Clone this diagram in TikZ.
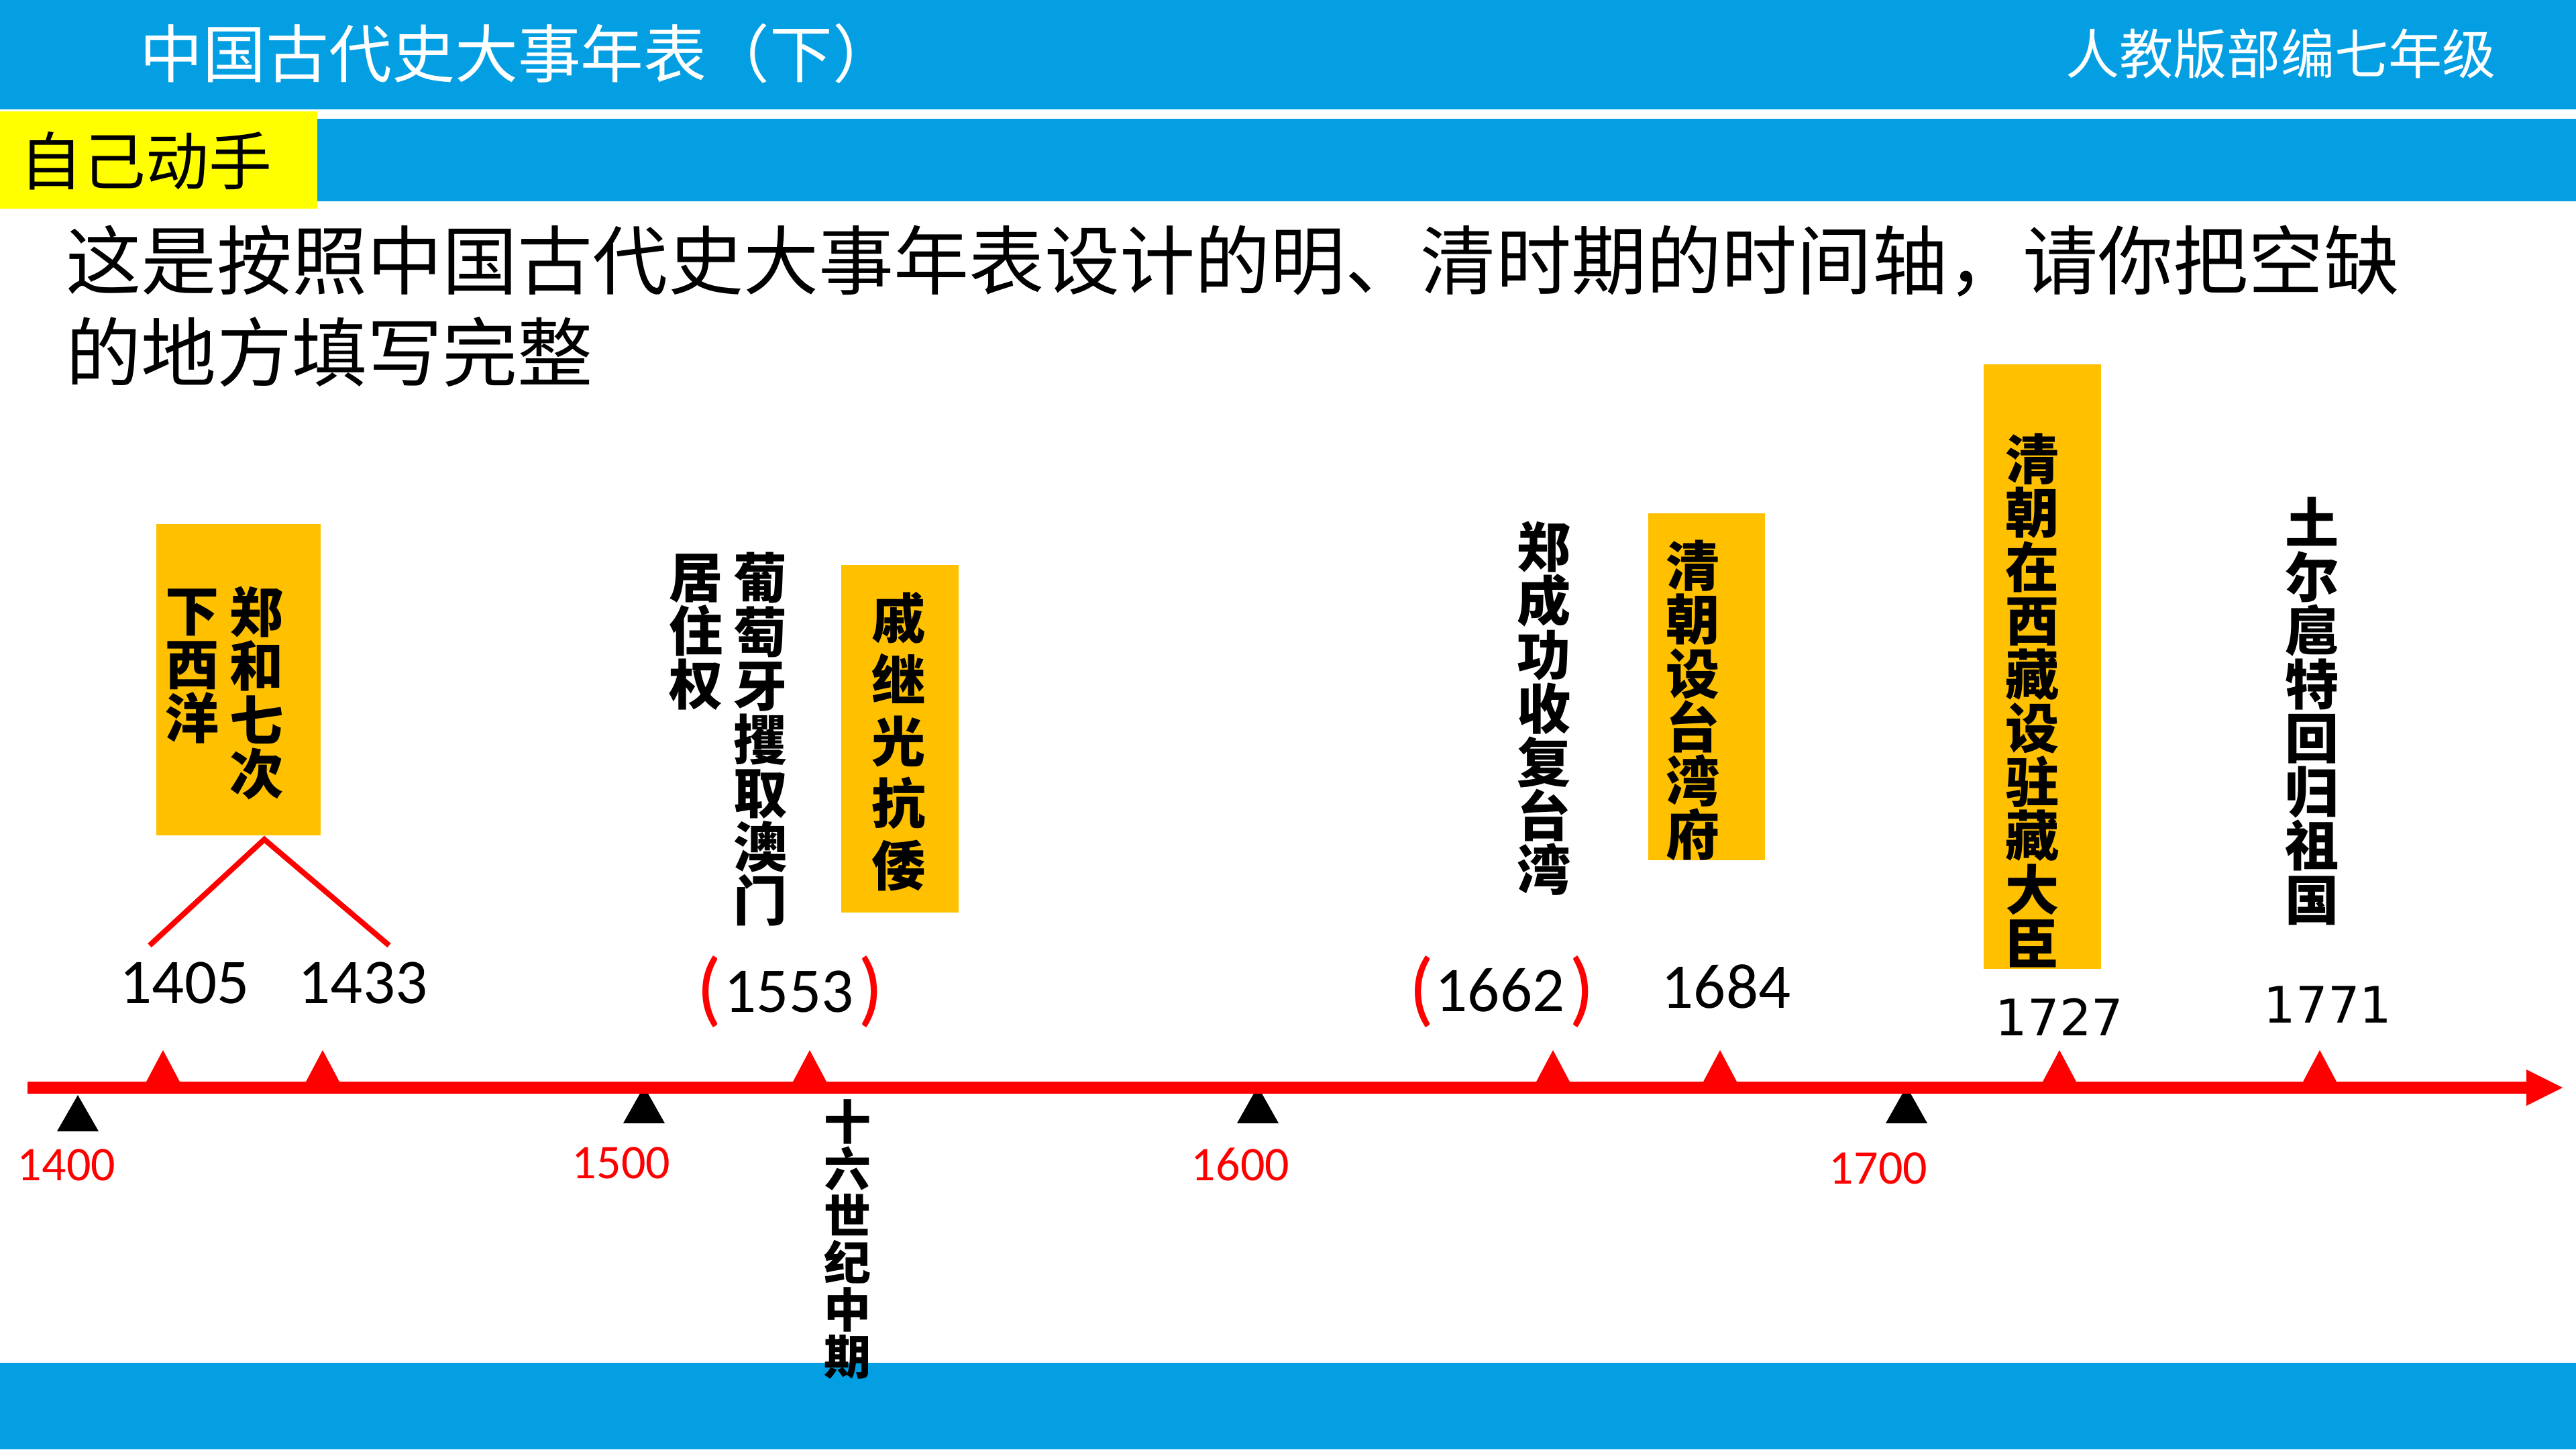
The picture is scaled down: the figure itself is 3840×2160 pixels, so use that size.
\documentclass[tikz,border=0pt]{standalone}
\usepackage{fontspec}
\setmainfont{Noto Sans CJK SC}
\newfontfamily\calfont{Carlito}
\newfontfamily\dvfont{DejaVu Sans}
\definecolor{topblue}{RGB}{4,159,227}
\definecolor{boxyellow}{RGB}{255,192,0}
\definecolor{labelyellow}{RGB}{255,255,0}
\newcommand{\fsz}[2]{\fontsize{#1}{#2}\selectfont}
\tikzset{
  vtext/.style={font=\bfseries\fsz{22.8pt}{22.8pt}, align=center, inner sep=0pt},
  bigyear/.style={font=\calfont\fsz{27pt}{27pt}, inner sep=0pt},
  redyear/.style={font=\calfont\fsz{20.5pt}{21pt}, text=red, inner sep=0pt},
  dvyear/.style={font=\dvfont\fsz{21.3pt}{22pt}, inner sep=0pt},
  paren/.style={font=\calfont\fsz{35pt}{35pt}, text=red, inner sep=0pt},
  ybox/.style={fill=boxyellow},
  redtri/.style={fill=red},
  blacktri/.style={fill=black},
}
\newcommand{\redtri}[1]{\fill[redtri] (#1-26,1614) -- (#1,1565) -- (#1+26,1614) -- cycle;}
\newcommand{\blacktri}[3]{\fill[blacktri] (#1-31,#3) -- (#1,#2) -- (#1+31,#3) -- cycle;}
\begin{document}
\begin{tikzpicture}[x=0.01cm,y=-0.01cm]
\useasboundingbox (0,0) rectangle (3840,2160);
\fill[white] (0,0) rectangle (3840,2160);
% bars
\fill[topblue] (0,0) rectangle (3840,163);
\fill[topblue] (0,177) rectangle (3840,300);
\fill[topblue] (0,2031) rectangle (3840,2160);
\fill[labelyellow] (0,166) rectangle (473,311);
% header texts
\node[anchor=west, text=white, font=\fsz{26.7pt}{27pt}, inner sep=0pt] (title) at (208,80) {中国古代史大事年表（下）};
\node[text=white, font=\fsz{22.8pt}{23pt}, inner sep=0pt] (grade) at (3400,80) {人教版部编七年级};
\node[anchor=west, font=\fsz{26.7pt}{27pt}, inner sep=0pt] (diy) at (29,240) {自己动手};
\node[anchor=west, font=\fsz{31.9pt}{32pt}, inner sep=0pt] (q1) at (98,389) {这是按照中国古代史大事年表设计的明、清时期的时间轴，请你把空缺};
\node[anchor=west, font=\fsz{31.9pt}{32pt}, inner sep=0pt] (q2) at (98,524) {的地方填写完整};
% yellow boxes
\fill[ybox] (233,781) rectangle (478,1245);
\fill[ybox] (1254,842) rectangle (1429,1360);
\fill[ybox] (2457,765) rectangle (2631,1282);
\fill[ybox] (2957,543) rectangle (3132,1444);
% vertical event texts
\node[vtext] (zh1) at (383,1033) {郑\\和\\七\\次};
\node[vtext] (zh2) at (287,993) {下\\西\\洋};
\node[vtext] (pt1) at (1134,1102) {葡\\萄\\牙\\攫\\取\\澳\\门};
\node[vtext] (pt2) at (1038,942) {居\\住\\权};
\node[vtext, font=\bfseries\fsz{22.8pt}{26.2pt}] (qjg) at (1340,1105) {戚\\继\\光\\抗\\倭};
\node[vtext, font=\bfseries\fsz{19.9pt}{19.9pt}] (c16) at (1263,1847) {十\\六\\世\\纪\\中\\期};
\node[vtext] (zcg) at (2302,1056) {郑\\成\\功\\收\\复\\台\\湾};
\node[vtext] (twf) at (2524,1044) {清\\朝\\设\\台\\湾\\府};
\node[vtext] (xz) at (3030,1044) {清\\朝\\在\\西\\藏\\设\\驻\\藏\\大\\臣};
\node[vtext] (te) at (3447,1060) {土\\尔\\扈\\特\\回\\归\\祖\\国};
% year labels
\node[bigyear] (y1405) at (275,1465) {1405};
\node[bigyear] (y1433) at (541,1465) {1433};
\node[bigyear] (y1553) at (1176,1478) {1553};
\node[paren] (p1l) at (1057,1478) {(};
\node[paren] (p1r) at (1298,1478) {)};
\node[bigyear] (y1662) at (2236,1476) {1662};
\node[paren] (p2l) at (2119,1478) {(};
\node[paren] (p2r) at (2358,1478) {)};
\node[bigyear] (y1684) at (2573,1470) {1684};
\node[dvyear] (y1727) at (3070,1516) {1727};
\node[dvyear] (y1771) at (3470,1497) {1771};
% chevron
\coordinate (apex) at (394,1251);
\coordinate (cl) at (223,1409);
\coordinate (cr) at (580,1409);
\draw[red, line width=2.3pt] (cl) -- (apex) -- (cr);
% triangles
\blacktri{116}{1632}{1686}
\blacktri{960}{1619}{1674}
\blacktri{1875}{1619}{1674}
\blacktri{2842}{1619}{1674}
\coordinate (ls) at (41,1621);
\coordinate (le) at (3768,1621);
\draw[red, line width=5pt] (ls) -- (le);
\fill[red] (3766,1594) -- (3820,1621) -- (3766,1648) -- cycle;
\redtri{243}
\redtri{481}
\redtri{1207}
\redtri{2315}
\redtri{2564}
\redtri{3070}
\redtri{3458}
% century labels
\node[redyear] (c1400) at (99,1736) {1400};
\node[redyear] (c1500) at (926,1733) {1500};
\node[redyear] (c1600) at (1849,1735) {1600};
\node[redyear] (c1700) at (2800,1741) {1700};
\end{tikzpicture}
\end{document}
